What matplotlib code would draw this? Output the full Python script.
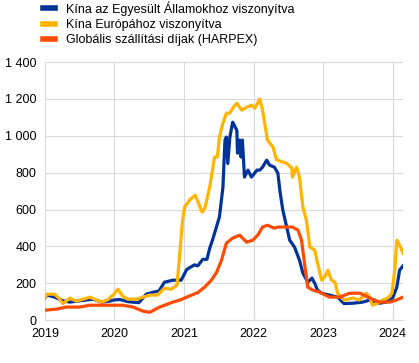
import matplotlib.pyplot as plt
from matplotlib.ticker import FuncFormatter

plt.rcParams['font.family'] = ['Liberation Sans', 'DejaVu Sans']

# China to US (decimal year, index value)
us_t = [2019.0, 2019.03, 2019.14, 2019.26, 2019.36, 2019.5, 2019.69, 2019.82, 2019.93, 2020.0,
        2020.08, 2020.2, 2020.35, 2020.46, 2020.56, 2020.64, 2020.72, 2020.84, 2020.96, 2021.04,
        2021.15, 2021.2, 2021.27, 2021.33, 2021.37, 2021.41, 2021.51, 2021.56, 2021.59, 2021.61,
        2021.63, 2021.66, 2021.7, 2021.76, 2021.77, 2021.8, 2021.82, 2021.84, 2021.87, 2021.92,
        2021.97, 2022.05, 2022.09, 2022.13, 2022.19, 2022.23, 2022.3, 2022.35, 2022.38, 2022.42,
        2022.48, 2022.52, 2022.59, 2022.66, 2022.71, 2022.78, 2022.84, 2022.88, 2022.92, 2022.98,
        2023.09, 2023.21, 2023.3, 2023.43, 2023.57, 2023.67, 2023.81, 2023.91, 2024.0, 2024.06,
        2024.1, 2024.15]
us_v = [120, 136, 125, 105, 98, 105, 114, 98, 103, 110,
        112, 100, 95, 141, 152, 158, 206, 217, 217, 275,
        300, 295, 330, 330, 390, 434, 560, 720, 977, 993,
        850, 993, 1074, 1030, 906, 977, 885, 977, 776, 814,
        776, 814, 814, 830, 868, 841, 830, 798, 700, 600,
        500, 434, 396, 326, 255, 206, 228, 200, 163, 146,
        136, 125, 90, 92, 98, 109, 92, 98, 120, 179,
        271, 295]

# China to Europe
eu_t = [2019.0, 2019.03, 2019.14, 2019.2, 2019.26, 2019.36, 2019.45, 2019.55, 2019.65, 2019.74,
        2019.82, 2019.9, 2019.98, 2020.05, 2020.12, 2020.19, 2020.32, 2020.41, 2020.51, 2020.62,
        2020.72, 2020.82, 2020.9, 2020.94, 2020.98, 2021.01, 2021.08, 2021.16, 2021.21, 2021.26,
        2021.3, 2021.37, 2021.41, 2021.44, 2021.48, 2021.51, 2021.56, 2021.61, 2021.66, 2021.7,
        2021.76, 2021.83, 2021.9, 2021.97, 2022.02, 2022.09, 2022.13, 2022.2, 2022.28, 2022.33,
        2022.48, 2022.55, 2022.56, 2022.62, 2022.66, 2022.71, 2022.76, 2022.81, 2022.88, 2022.92,
        2022.98, 2023.02, 2023.07, 2023.12, 2023.17, 2023.21, 2023.3, 2023.43, 2023.52, 2023.62,
        2023.67, 2023.71, 2023.78, 2023.86, 2023.93, 2023.99, 2024.03, 2024.06, 2024.1, 2024.15]
eu_v = [120, 141, 141, 120, 90, 120, 103, 114, 125, 109,
        98, 110, 136, 168, 130, 114, 114, 125, 136, 136,
        174, 168, 190, 363, 543, 613, 651, 678, 634, 586,
        608, 722, 814, 885, 885, 993, 1069, 1123, 1123, 1150,
        1177, 1139, 1155, 1166, 1150, 1199, 1139, 977, 939, 870,
        850, 825, 776, 830, 776, 613, 543, 396, 380, 309,
        217, 233, 271, 217, 206, 146, 109, 120, 109, 146,
        125, 81, 92, 109, 120, 146, 271, 434, 407, 363]

# Global shipping rates (HARPEX)
hx_t = [2019.0, 2019.17, 2019.31, 2019.5, 2019.65, 2019.89, 2020.12, 2020.27, 2020.41, 2020.51,
        2020.65, 2020.84, 2020.94, 2021.04, 2021.2, 2021.3, 2021.4, 2021.47, 2021.54, 2021.61,
        2021.7, 2021.8, 2021.9, 2021.99, 2022.06, 2022.13, 2022.2, 2022.3, 2022.35, 2022.56,
        2022.64, 2022.69, 2022.74, 2022.78, 2022.85, 2022.95, 2023.09, 2023.24, 2023.38, 2023.53,
        2023.67, 2023.81, 2023.96, 2024.05, 2024.15]
hx_v = [54, 60, 71, 71, 81, 81, 81, 71, 49, 43,
        71, 98, 109, 125, 150, 180, 220, 260, 326, 418,
        445, 461, 423, 434, 461, 505, 515, 499, 505, 505,
        488, 434, 288, 179, 163, 152, 125, 125, 146, 146,
        120, 98, 98, 109, 125]

labels = ['Kína az Egyesült Államokhoz viszonyítva',
          'Kína Európához viszonyítva',
          'Globális szállítási díjak (HARPEX)']
colors = ['#003399', '#ffb400', '#ff4b00']

fig = plt.figure(figsize=(4.19, 3.63), dpi=100)
ax = fig.add_axes([0.107, 0.118, 0.855, 0.711])

ax.plot(us_t, us_v, color=colors[0], lw=2.3, label=labels[0])
ax.plot(eu_t, eu_v, color=colors[1], lw=2.3, label=labels[1])
ax.plot(hx_t, hx_v, color=colors[2], lw=2.3, label=labels[2])

ax.set_xlim(2019, 2024.15)
ax.set_ylim(0, 1400)
ax.set_xticks(range(2019, 2025))
ax.set_yticks(range(0, 1401, 200))
ax.yaxis.set_major_formatter(FuncFormatter(lambda v, p: f'{int(v):,}'.replace(',', ' ')))
ax.grid(True, color='#d9d9d9', lw=0.8)
ax.set_axisbelow(True)
for s in ['top', 'right', 'left']:
    ax.spines[s].set_visible(False)
ax.spines['bottom'].set_color('#d9d9d9')
ax.tick_params(length=0, labelsize=9, colors='#000000', pad=6)

fig.legend(loc='upper left', bbox_to_anchor=(0.09, 1.01), frameon=False,
           fontsize=9, handlelength=1.0, handletextpad=0.9, labelspacing=0.25,
           borderaxespad=0)
for line in fig.legends[0].get_lines():
    line.set_linewidth(4)

fig.savefig('out.png', dpi=100)
